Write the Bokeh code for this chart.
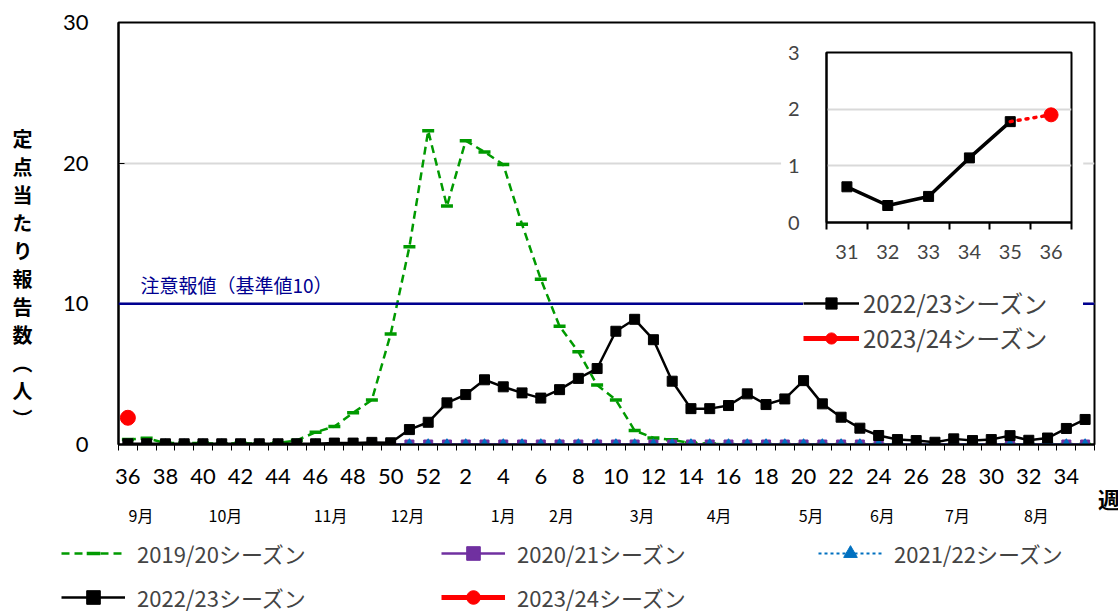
from bokeh.plotting import figure
from bokeh.models import (Range1d, FixedTicker, Legend, LegendItem, Label, Span,
                          LinearAxis, Column, Div, BoxAnnotation)
from bokeh.embed import file_html
from bokeh.resources import INLINE

# ---------------- data ----------------
weeks = [36, 37, 38, 39, 40, 41, 42, 43, 44, 45, 46, 47, 48, 49, 50, 51, 52,
         1, 2, 3, 4, 5, 6, 7, 8, 9, 10, 11, 12, 13, 14, 15, 16, 17, 18, 19, 20,
         21, 22, 23, 24, 25, 26, 27, 28, 29, 30, 31, 32, 33, 34, 35]

s2019 = [0.35, 0.45, 0.1, 0.1, 0.1, 0.05, 0.1, 0.05, 0.1, 0.3, 0.87, 1.28, 2.25, 3.17, 7.85, 14.06, 22.3,
         16.95, 21.6, 20.8, 19.9, 15.65, 11.75, 8.4, 6.6, 4.23, 3.17, 0.99, 0.47, 0.33, 0.1, 0.05, 0.0,
         0.0, 0.0, 0.0, 0.0, 0.0, 0.0, 0.0, 0.0, 0.0, 0.0, 0.0, 0.0, 0.0, 0.0, 0.0, 0.0, 0.0, 0.0, 0.0]

s2020 = [0.0, 0.0, 0.0, 0.0, 0.0, 0.0, 0.0, 0.0, 0.0, 0.0, 0.0, 0.0, 0.0, 0.0, 0.0, 0.0, 0.0,
         0.0, 0.0, 0.0, 0.0, 0.0, 0.0, 0.0, 0.0, 0.0, 0.0, 0.0, 0.0, 0.0, 0.0, 0.0, 0.0, 0.0, 0.0,
         0.0, 0.0, 0.0, 0.0, 0.0, 0.0, 0.0, 0.0, 0.0, 0.0, 0.0, 0.0, 0.0, 0.0, 0.0, 0.0, 0.0]

s2021 = [0.0, 0.0, 0.0, 0.0, 0.0, 0.0, 0.0, 0.0, 0.0, 0.0, 0.0, 0.0, 0.0, 0.0, 0.0, 0.0, 0.0,
         0.0, 0.0, 0.0, 0.0, 0.0, 0.0, 0.0, 0.0, 0.0, 0.0, 0.0, 0.0, 0.0, 0.0, 0.0, 0.0, 0.0, 0.0,
         0.0, 0.0, 0.0, 0.0, 0.0, 0.0, 0.0, 0.0, 0.0, 0.0, 0.0, 0.0, 0.0, 0.0, 0.0, 0.0, 0.0]

s2022 = [0.05, 0.05, 0.05, 0.05, 0.05, 0.05, 0.05, 0.05, 0.05, 0.05, 0.05, 0.1, 0.1, 0.15, 0.12, 1.06, 1.58,
         2.96, 3.55, 4.6, 4.1, 3.67, 3.3, 3.9, 4.7, 5.4, 8.05, 8.9, 7.45, 4.5, 2.55, 2.55, 2.77, 3.6, 2.84,
         3.24, 4.54, 2.89, 1.94, 1.16, 0.64, 0.35, 0.28, 0.16, 0.4, 0.28, 0.35, 0.63, 0.30, 0.46, 1.14, 1.78]

s2023 = [1.9]

season_names = ["2019/20シーズン", "2020/21シーズン", "2021/22シーズン",
                "2022/23シーズン", "2023/24シーズン"]

month_names = ["9月", "10月", "11月", "12月", "1月", "2月", "3月", "4月", "5月", "6月", "7月", "8月"]
month_pos10 = [7, 52, 108, 149, 200, 231, 274, 315, 364, 402, 442, 484]   # week index x10

threshold = 10
threshold_text = "注意報値（基準値10）"
y_title = "定点当たり報告数（人）"
x_title = "週"

inset_weeks = [31, 32, 33, 34, 35, 36]

# ---------------- styling ----------------
GREEN = "#009a00"
PURPLE = "#7030a0"
BLUE = "#0070c0"
BLACK = "#000000"
RED = "#ff0000"
NAVY = "#000090"
GRID = "#d9d9d9"
NUMF = "Lato"
JPF = "Noto Sans CJK JP"

W, H = 1118, 614
BL, BR, BT, BB = 118, 24, 22, 170

STYLES = [
    dict(line=dict(line_color=GREEN, line_width=2.5, line_dash="8 5"),
         mark=dict(marker="dash", size=12, line_color=GREEN, line_width=3.5)),
    dict(line=dict(line_color=PURPLE, line_width=2.5),
         mark=dict(marker="square", size=9, color=PURPLE)),
    dict(line=dict(line_color=BLUE, line_width=2, line_dash="3 3"),
         mark=dict(marker="triangle", size=10, color=BLUE)),
    dict(line=dict(line_color=BLACK, line_width=2.5),
         mark=dict(marker="square", size=10, color=BLACK)),
    dict(line=dict(line_color=RED, line_width=5),
         mark=dict(marker="circle", size=15, color=RED)),
]

xs = list(range(len(weeks)))
series = [s2019, s2020, s2021, s2022, s2023]

p = figure(width=W, height=H, x_range=Range1d(-0.5, len(weeks) - 0.5),
           y_range=Range1d(0, 30), output_backend="svg", toolbar_location=None,
           min_border_left=BL, min_border_right=BR, min_border_top=BT,
           min_border_bottom=BB, background_fill_color="white",
           border_fill_color="white")
p.outline_line_color = "black"
p.outline_line_width = 2

# x axis (weeks)
xa = p.xaxis[0]
xa.ticker = FixedTicker(ticks=xs[::2], minor_ticks=[i - 0.5 for i in range(len(weeks) + 1)])
xa.major_label_overrides = {i: str(weeks[i]) for i in xs[::2]}
xa.major_tick_line_color = None
xa.major_tick_out = 0
xa.minor_tick_line_color = "black"
xa.minor_tick_out = 6
xa.minor_tick_in = 0
xa.axis_line_width = 2
xa.major_label_text_font = NUMF
xa.major_label_text_font_size = "22px"
xa.major_label_text_color = "black"
xa.major_label_standoff = 18

# y axis
ya = p.yaxis[0]
ya.ticker = FixedTicker(ticks=[0, 10, 20, 30])
ya.major_tick_in = 6
ya.major_tick_out = 0
ya.minor_tick_line_color = None
ya.axis_line_width = 2
ya.major_label_text_font = NUMF
ya.major_label_text_font_size = "22px"
ya.major_label_text_color = "black"
ya.major_label_standoff = 30

p.xgrid.visible = False
p.ygrid.ticker = FixedTicker(ticks=[10, 20])
p.ygrid.grid_line_color = GRID
p.ygrid.grid_line_width = 2

# month axis below
p.extra_x_ranges = {"m": Range1d(-5, len(weeks) * 10 - 5)}
ma = LinearAxis(x_range_name="m", ticker=FixedTicker(ticks=month_pos10),
                major_label_overrides={v: n for v, n in zip(month_pos10, month_names)})
ma.axis_line_color = None
ma.major_tick_line_color = None
ma.minor_tick_line_color = None
ma.major_label_text_font = JPF
ma.major_label_text_font_size = "16px"
ma.major_label_text_color = "black"
ma.major_label_standoff = 10
p.add_layout(ma, "below")

# white area behind the inset chart
p.add_layout(BoxAnnotation(left=34.8, right=50.9, bottom=12.7, top=29.4,
                           fill_color="white", fill_alpha=1.0, line_color=None))

# threshold line
p.add_layout(Span(location=threshold, dimension="width", line_color=NAVY, line_width=2.5))
p.add_layout(Label(x=22, x_units="screen", y=threshold, y_units="data", y_offset=6,
                   text=threshold_text, text_font=JPF, text_font_size="19px",
                   text_color=NAVY, text_baseline="bottom"))

# series
main_r = []
for vals, st in zip(series, STYLES):
    xv = xs[:len(vals)]
    main_r.append([p.line(xv, vals, **st["line"]), p.scatter(xv, vals, **st["mark"])])

# inner legend
inner = Legend(items=[LegendItem(label=season_names[3], renderers=main_r[3]),
                      LegendItem(label=season_names[4], renderers=main_r[4])],
               location=(685, 89), orientation="vertical",
               glyph_width=56, glyph_height=28, spacing=0, label_standoff=4,
               padding=8, margin=0, label_width=220,
               label_text_font=JPF, label_text_font_size="24px",
               background_fill_color="white", background_fill_alpha=1.0,
               border_line_color=None)
p.add_layout(inner)


# ---------------- bottom legend (own plots) ----------------
def legend_plot(idx, frame_left, frame_w, ncols, loc):
    f = figure(width=BL + frame_w + BR, height=94, x_range=Range1d(0, 1), y_range=Range1d(0, 1),
               output_backend="svg", toolbar_location=None,
               min_border_left=BL, min_border_right=BR, min_border_top=0, min_border_bottom=0,
               background_fill_alpha=0.0, border_fill_alpha=0.0)
    f.outline_line_color = None
    f.axis.visible = False
    f.grid.visible = False
    items = []
    for i in idx:
        vals = series[i]
        xv = xs[:len(vals)]
        rl = f.line(xv, vals, visible=False, **STYLES[i]["line"])
        rm = f.scatter(xv, vals, visible=False, **STYLES[i]["mark"])
        items.append(LegendItem(label=season_names[i], renderers=[rl, rm]))
    lg = Legend(items=items, location=loc, orientation="horizontal", ncols=ncols,
                glyph_width=64, glyph_height=34, spacing=10, label_standoff=12,
                padding=0, margin=0, label_width=294,
                label_text_font=JPF, label_text_font_size="22px",
                background_fill_alpha=0.0, border_line_color=None,
                inactive_fill_alpha=0.0)
    f.add_layout(lg)
    f.styles = {"position": "absolute", "left": f"{frame_left - BL}px", "top": "520px",
                "z-index": "4"}
    return f


r1 = legend_plot([0, 1, 3, 4], 55, 765, 2, (6, 0))
r2 = legend_plot([2], 812, 280, 1, (6, 44))

# ---------------- inset ----------------
ix = list(range(1, len(inset_weeks) + 1))
ik_y = [s2022[weeks.index(w)] for w in inset_weeks[:-1]]
ik_x = ix[:-1]
ir_y = [s2022[weeks.index(inset_weeks[-2])], s2023[0]]
ir_x = ix[-2:]

q = figure(width=BL + 245 + BR, height=235, x_range=Range1d(0.5, len(inset_weeks) + 0.5),
           y_range=Range1d(0, 3), output_backend="svg", toolbar_location=None,
           min_border_left=BL, min_border_right=BR, min_border_top=22,
           min_border_bottom=43, background_fill_color="white",
           border_fill_alpha=0.0)
q.outline_line_color = "black"
q.outline_line_width = 2
qx = q.xaxis[0]
qx.ticker = FixedTicker(ticks=ix, minor_ticks=[i + 0.5 for i in range(len(inset_weeks) + 1)])
qx.major_label_overrides = {i: str(w) for i, w in zip(ix, inset_weeks)}
qx.major_tick_line_color = None
qx.major_tick_out = 0
qx.minor_tick_line_color = "black"
qx.minor_tick_line_width = 2
qx.minor_tick_out = 7
qx.minor_tick_in = 0
qx.axis_line_width = 2
qx.major_label_text_font = NUMF
qx.major_label_text_font_size = "20px"
qx.major_label_standoff = 15
qy = q.yaxis[0]
qy.ticker = FixedTicker(ticks=[0, 1, 2, 3])
qy.major_tick_line_color = None
qy.minor_tick_line_color = None
qy.axis_line_width = 2
qy.major_label_text_font = NUMF
qy.major_label_text_font_size = "20px"
qy.major_label_standoff = 21
q.xgrid.visible = False
q.ygrid.ticker = FixedTicker(ticks=[1, 2])
q.ygrid.grid_line_color = GRID
q.ygrid.grid_line_width = 2

q.line(ik_x, ik_y, line_color=BLACK, line_width=3.5)
q.scatter(ik_x, ik_y, marker="square", size=10, color=BLACK)
q.line(ir_x, ir_y, line_color=RED, line_width=3.5, line_dash="2 6", line_cap="round")
q.scatter(ir_x[-1:], ir_y[-1:], marker="circle", size=14, color=RED)

q.styles = {"position": "absolute", "left": f"{826 - BL}px", "top": "30px", "z-index": "5"}

# ---------------- titles as text boxes ----------------
ydiv = Div(text=y_title, width=26, height=320,
           styles={"position": "absolute", "left": "1px", "top": "124px", "z-index": "6",
                   "writing-mode": "vertical-rl", "font-family": JPF,
                   "font-size": "20px", "font-weight": "bold", "letter-spacing": "8px",
                   "line-height": "1", "color": "black"})
wdiv = Div(text=x_title, width=30, height=30,
           styles={"position": "absolute", "left": "1093px", "top": "482px", "z-index": "6",
                   "font-family": JPF, "font-size": "22px", "font-weight": "bold",
                   "line-height": "1", "color": "black"})

lay = Column(children=[p, q, r1, r2, ydiv, wdiv], width=W, height=H,
             styles={"position": "relative", "width": f"{W}px", "height": f"{H}px"})

open("out.html", "w").write(file_html(lay, INLINE))
